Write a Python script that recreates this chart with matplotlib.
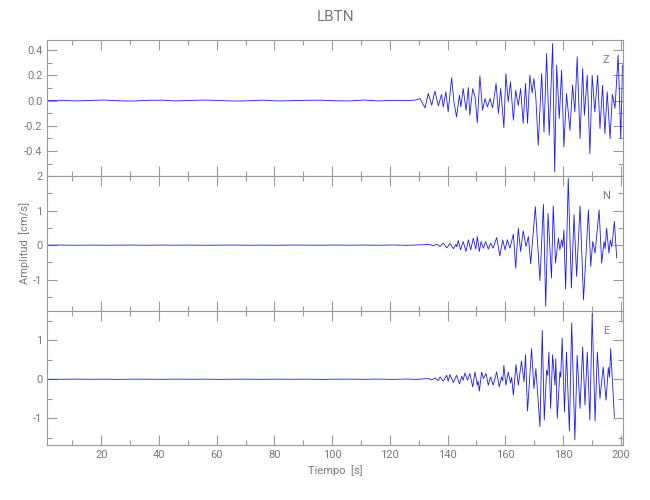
import matplotlib
matplotlib.use("Agg")
import matplotlib.pyplot as plt
from matplotlib.ticker import MultipleLocator, FormatStrFormatter

plt.rcParams['font.family'] = ['Liberation Sans Narrow', 'Roboto', 'DejaVu Sans']
plt.rcParams['axes.unicode_minus'] = True

# quiet part before the onset (time [s])
pre_t = [1.3, 6, 11, 16, 21, 26, 31, 36, 41, 46, 51, 56, 61, 66, 71, 76, 81,
         86, 91, 96, 101, 106, 111, 116, 121, 126, 129]
z_pre = [0.0, 0.002, -0.003, 0.001, 0.004, -0.002, -0.004, 0.002, 0.003, -0.003,
         0.001, 0.004, 0.0, -0.004, -0.002, 0.003, -0.003, -0.001, 0.002, 0.003,
         -0.002, -0.003, 0.004, -0.003, 0.002, 0.0, 0.004]
n_pre = [0.0, 0.003, -0.002, 0.002, -0.003, 0.001, 0.002, -0.002, 0.003, -0.001,
         0.002, -0.003, 0.001, 0.003, -0.002, 0.001, -0.003, 0.002, 0.001, -0.002,
         0.003, -0.001, 0.002, -0.003, 0.004, -0.004, 0.005]
e_pre = [0.0, -0.002, 0.003, -0.001, 0.002, -0.003, 0.002, 0.001, -0.002, 0.003,
         -0.001, 0.002, -0.003, 0.001, 0.002, -0.002, 0.003, -0.001, 0.002, -0.003,
         0.001, 0.003, -0.002, 0.004, -0.004, 0.005, -0.005]

# vertical component Z
z_t = [130.4, 132.2, 133.3, 134.5, 135.6, 136.8, 137.9, 138.5, 139.4, 140.2,
       141.4, 142.2, 143.1, 144.1, 144.6, 145.4, 146.4, 147.2, 147.7, 148.7,
       149.5, 150.3, 151.2, 152.1, 153.0, 153.8, 154.7, 155.6, 156.8, 157.6,
       158.4, 159.5, 160.2, 161.0, 161.8, 162.8, 163.6, 164.5, 165.3, 166.2,
       167.0, 167.7, 168.5, 169.3, 169.9, 170.6, 171.4, 172.6, 173.4, 174.3,
       175.2, 176.4, 177.1, 177.8, 178.7, 179.5, 180.3, 181.2, 182.4, 183.3,
       184.1, 184.9, 185.9, 186.8, 187.4, 188.4, 189.3, 190.1, 191.0, 192.0,
       192.8, 193.7, 194.5, 195.3, 196.3, 197.1, 198.0, 199.1, 200.0, 200.6]
z_v = [0.016, -0.058, 0.056, -0.037, 0.074, -0.042, 0.048, -0.05, 0.069, -0.09,
       0.18, -0.01, -0.13, 0.042, -0.05, 0.095, -0.077, 0.103, -0.116, 0.095,
       0.03, -0.175, 0.196, -0.077, 0.016, -0.05, 0.016, -0.058, 0.135, -0.103,
       0.095, -0.214, 0.214, -0.01, 0.148, -0.156, 0.082, -0.04, 0.095, -0.18,
       0.135, -0.18, 0.2, 0.06, 0.175, 0.016, -0.354, 0.214, -0.249, 0.373,
       -0.275, 0.452, -0.566, 0.28, -0.143, 0.24, -0.368, 0.056, -0.235, 0.122,
       -0.09, 0.347, -0.302, 0.254, -0.116, 0.2, -0.42, 0.2, -0.09, 0.2,
       -0.222, 0.122, -0.262, 0.069, -0.302, 0.05, -0.06, 0.36, -0.302, 0.28]

# north component N
n_t = [133.9, 135.0, 136.2, 137.4, 138.5, 139.7, 140.8, 142.0, 142.9, 143.2,
       143.7, 144.5, 145.4, 146.4, 147.2, 148.0, 148.9, 149.8, 150.3, 151.0,
       151.6, 152.4, 153.2, 154.1, 154.9, 155.8, 157.0, 158.1, 159.1, 159.9,
       160.7, 161.6, 162.8, 163.6, 164.5, 165.3, 166.2, 167.2, 168.0, 168.8,
       170.4, 172.0, 173.2, 174.0, 174.8, 176.0, 176.6, 177.4, 178.4, 178.9,
       179.5, 179.9, 180.3, 180.9, 181.8, 182.9, 183.8, 184.7, 185.9, 187.1,
       188.8, 189.6, 190.3, 191.1, 192.5, 193.4, 194.2, 194.6, 195.1, 195.9,
       196.4, 196.9, 197.8, 198.6]
n_v = [0.02, -0.02, 0.03, -0.04, 0.06, -0.08, 0.05, -0.10, 0.02, -0.05,
       0.135, -0.135, 0.106, -0.183, 0.154, -0.135, 0.202, -0.115, 0.25, -0.183,
       0.106, -0.087, 0.106, -0.115, 0.058, -0.087, 0.221, -0.308, 0.154, -0.135,
       0.154, -0.087, 0.317, -0.663, 0.49, -0.183, 0.413, -0.04, 0.25, -0.538,
       1.115, -1.029, 1.183, -1.769, 0.923, -0.952, 1.135, -0.519, 0.202, -0.135,
       0.154, -0.05, 0.44, -1.269, 1.933, -1.24, 0.875, -0.904, 1.135, -1.577,
       1.019, -0.615, 0.106, -0.231, 1.019, -0.519, 0.1, -0.1, 0.49, -0.231,
       0.15, -0.05, 0.683, -0.375]

# east component E
e_t = [133.3, 134.5, 135.6, 136.8, 137.4, 138.5, 139.7, 140.2, 140.8, 142.0,
       143.1, 144.1, 144.9, 145.4, 146.0, 146.9, 147.7, 148.7, 149.5, 150.3,
       150.6, 151.0, 151.8, 152.4, 153.3, 154.1, 154.9, 155.8, 157.0, 157.9,
       158.7, 159.1, 159.5, 160.2, 161.0, 161.8, 162.2, 162.8, 163.7, 164.5,
       165.6, 166.5, 167.0, 167.7, 169.1, 169.9, 170.6, 172.0, 172.8, 173.5,
       174.3, 174.7, 175.1, 175.7, 176.4, 177.2, 177.5, 178.0, 178.9, 179.2,
       179.7, 180.5, 181.2, 182.2, 183.0, 184.1, 184.9, 185.9, 186.8, 187.6,
       188.4, 189.3, 190.1, 191.1, 191.9, 192.8, 193.9, 194.9, 195.7, 196.1,
       196.5, 197.8]
e_v = [0.017, -0.017, 0.034, -0.034, 0.06, -0.05, 0.10, -0.05, 0.119, -0.085,
       0.10, -0.119, 0.076, -0.025, 0.161, -0.025, 0.144, -0.195, 0.186, -0.153,
       -0.05, -0.305, 0.186, 0.017, 0.144, -0.153, 0.059, -0.153, 0.186, -0.195,
       0.059, -0.04, 0.356, -0.153, 0.186, -0.1, 0.05, -0.407, 0.373, -0.153,
       0.458, -0.068, 0.627, -0.814, 0.78, -0.237, 0.27, -1.212, 1.246, -1.042,
       0.23, 0.1, 0.695, -0.746, 0.627, -0.15, 0.525, -1.0, 0.186, 0.05,
       1.05, -0.83, 0.695, -1.322, 1.44, -1.55, 0.61, -0.746, 0.822, -0.661,
       0.695, -1.042, 1.669, -1.068, 0.695, -0.492, 0.314, -0.534, 0.3, 0.05,
       0.78, -0.97]

components = ['Z', 'N', 'E']
times = [pre_t + z_t, pre_t + n_t, pre_t + e_t]
amps = [z_pre + z_v, n_pre + n_v, e_pre + e_v]
ylims = [(-0.598, 0.48), (-1.89, 2.0), (-1.68, 1.756)]
ymajor = [0.2, 1.0, 1.0]
yminor = [0.1, 0.5, 0.5]
yfmt = ['%.1f', '%d', '%d']

grey = '#9a9a9a'
txt = '#7a7a7a'

fig = plt.figure(figsize=(6.5, 5), dpi=100)
boxes = [[0.0728, 0.648, 0.8862, 0.272],
         [0.0728, 0.379, 0.8862, 0.269],
         [0.0728, 0.110, 0.8862, 0.269]]

axes = []
for i, comp in enumerate(components):
    ax = fig.add_axes(boxes[i])
    ax.plot(times[i], amps[i], color='#1a1aff', lw=0.6)
    ax.set_xlim(1.3, 200.9)
    ax.set_ylim(*ylims[i])
    ax.xaxis.set_major_locator(MultipleLocator(20))
    ax.xaxis.set_minor_locator(MultipleLocator(10))
    ax.yaxis.set_major_locator(MultipleLocator(ymajor[i]))
    ax.yaxis.set_minor_locator(MultipleLocator(yminor[i]))
    ax.yaxis.set_major_formatter(FormatStrFormatter(yfmt[i]))
    ax.tick_params(which='both', direction='in', top=True, right=True,
                   color=grey, labelcolor=txt, labelsize=8, width=0.8)
    ax.tick_params(which='major', length=7)
    ax.tick_params(which='minor', length=3.5)
    for s in ax.spines.values():
        s.set_color(grey)
        s.set_linewidth(0.8)
    ax.text(0.97, 0.85, comp, transform=ax.transAxes, color=txt,
            fontsize=8, ha='center', va='center')
    if i < 2:
        ax.tick_params(labelbottom=False)
    axes.append(ax)

axes[0].set_title('LBTN', color=txt, fontsize=11, pad=14)
axes[1].set_ylabel('Amplitud  [cm/s]', color=txt, fontsize=8)
axes[1].yaxis.set_label_coords(-0.03, 0.5)
axes[2].set_xlabel('Tiempo  [s]', color=txt, fontsize=8, labelpad=4)

fig.savefig('out.png', dpi=100)
